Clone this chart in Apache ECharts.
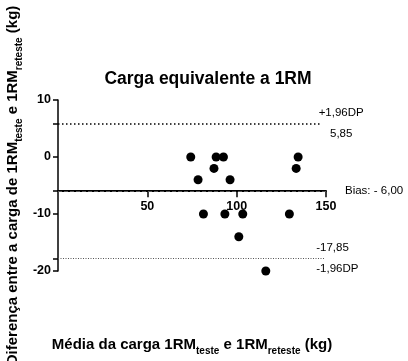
<!DOCTYPE html>
<html><head><meta charset="utf-8">
<script src="https://cdn.jsdelivr.net/npm/echarts@6/dist/echarts.min.js"></script>
<style>html,body{margin:0;padding:0;background:#fff}#c{width:408px;height:361px}</style>
</head><body><div id="c"></div>
<script>
const meanLoad = [74.3, 78.4, 81.4, 87.3, 88.5, 92.6, 93.4, 96.3, 101.2, 103.4, 116.3, 129.5, 133.3, 134.4];
const diffLoad = [0, -4, -10, -2, 0, 0, -10, -4, -14, -10, -20, -10, -2, 0];
const bias = -6.00;
const upperLoA = 5.85;
const lowerLoA = -17.85;
const xTicks = [0, 150, 50];   // min, max, interval
const yTicks = [-20, 10, 10];  // min, max, interval
const yTickMarks = [-20, lowerLoA, -10, bias, 0, upperLoA, 10];
const upperLineEnd = 147;
const lowerLineEnd = 149;

const gridTop = 100, gridBottom = 90, H = 361;
const gridH = H - gridTop - gridBottom;
const xAxisOffset = -gridH * (bias - yTicks[0]) / (yTicks[1] - yTicks[0]);

const font = 'Liberation Sans, Arial, sans-serif';
const nameRich = {
  a: {fontFamily: font, fontSize: 15, fontWeight: 'bold', color: '#000', lineHeight: 22},
  s: {fontFamily: font, fontSize: 10, fontWeight: 'bold', color: '#000', verticalAlign: 'bottom', lineHeight: 22}
};
const chart = echarts.init(document.getElementById('c'), null, {renderer: 'canvas'});
chart.setOption({
  animation: false,
  backgroundColor: '#fff',
  title: {
    text: 'Carga equivalente a 1RM',
    left: 203, top: 65, textAlign: 'center',
    textStyle: {fontFamily: font, fontSize: 17.5, fontWeight: 'bold', color: '#000'}
  },
  grid: {left: 58, right: 82, top: gridTop, bottom: gridBottom, containLabel: false, outerBoundsMode: 'none'},
  xAxis: {
    type: 'value', min: xTicks[0], max: xTicks[1], interval: xTicks[2],
    position: 'bottom', offset: xAxisOffset,
    axisLine: {onZero: false, lineStyle: {color: '#000', width: 2}},
    axisTick: {show: true, inside: false, length: 6, lineStyle: {color: '#000', width: 1.5}},
    axisLabel: {showMinLabel: false, color: '#000', fontFamily: font, fontSize: 12.5, fontWeight: 'bold', margin: 9},
    splitLine: {show: false},
    name: '{a|Média da carga 1RM}{s|teste}{a| e 1RM}{s|reteste}{a| (kg)}',
    nameLocation: 'middle', nameGap: 143, nameMoveOverlap: false,
    nameTextStyle: {rich: nameRich}
  },
  yAxis: {
    type: 'value', min: yTicks[0], max: yTicks[1], interval: yTicks[2],
    axisLine: {show: true, onZero: false, lineStyle: {color: '#000', width: 1.5}},
    axisTick: {show: true, length: 5, customValues: yTickMarks, lineStyle: {color: '#000', width: 1.5}},
    axisLabel: {color: '#000', fontFamily: font, fontSize: 12.5, fontWeight: 'bold', margin: 7},
    splitLine: {show: false},
    name: '{a|Diferença entre a carga de 1RM}{s|teste}{a| e 1RM}{s|reteste}{a| (kg)}',
    nameLocation: 'middle', nameGap: 34, nameRotate: 90, nameMoveOverlap: false,
    nameTextStyle: {rich: nameRich}
  },
  series: [{
    type: 'scatter',
    data: meanLoad.map((m, i) => [m, diffLoad[i]]),
    symbol: 'circle', symbolSize: 9,
    itemStyle: {color: '#000', opacity: 1},
    markLine: {
      silent: true, symbol: 'none',
      data: [
        [{coord: [xTicks[0], upperLoA], lineStyle: {type: [1.5, 2.5], width: 1.5, color: '#000'},
          label: {show: true, position: 'end', distance: -2,
            formatter: '{t|+1,96DP}\n{t|5,85}',
            rich: {t: {fontFamily: font, fontSize: 11.5, color: '#000', align: 'center', lineHeight: 21}}}},
         {coord: [upperLineEnd, upperLoA]}],
        [{coord: [xTicks[0], bias], lineStyle: {type: [4, 2], width: 1, color: '#555'},
          label: {show: true, position: 'end', distance: 19, formatter: 'Bias: - 6,00',
            fontFamily: font, fontSize: 11.5, color: '#000'}},
         {coord: [xTicks[1], bias]}],
        [{coord: [xTicks[0], lowerLoA], lineStyle: {type: [1, 1.5], width: 1, color: '#555'},
          label: {show: true, position: 'end', distance: -8,
            formatter: '{t|-17,85}\n{t|-1,96DP}',
            rich: {t: {fontFamily: font, fontSize: 11.5, color: '#000', align: 'left', lineHeight: 21}}}},
         {coord: [lowerLineEnd, lowerLoA]}]
      ]
    }
  }]
});
</script></body></html>
